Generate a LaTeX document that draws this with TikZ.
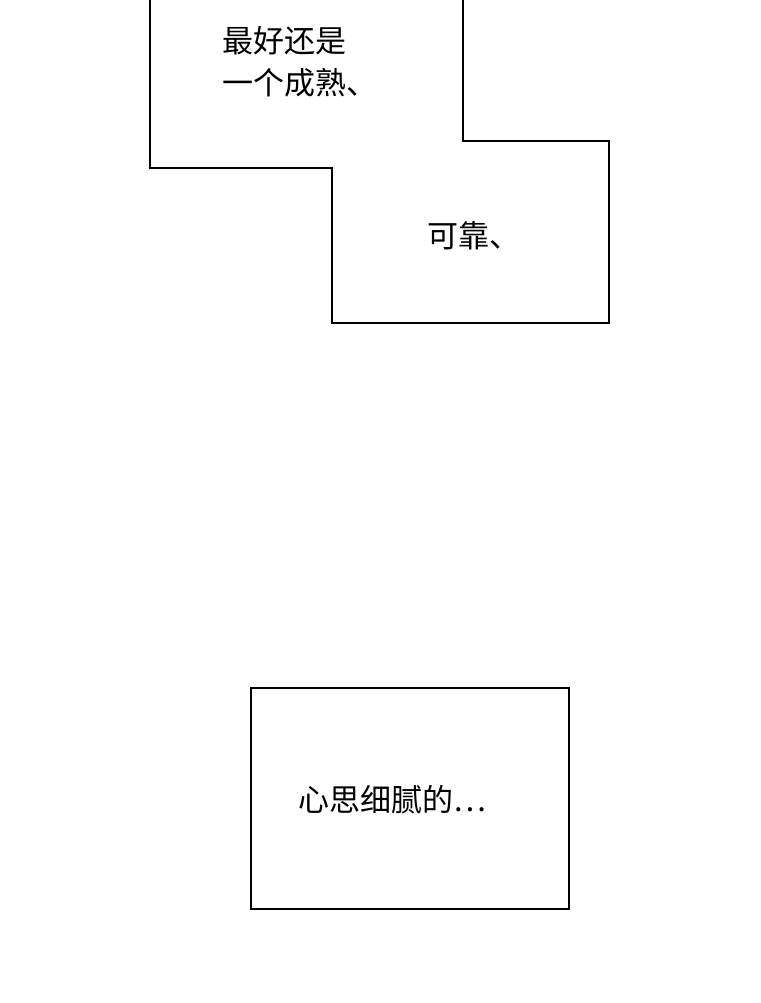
\documentclass[tikz,border=0pt]{standalone}
\usepackage{fontspec}
\newfontfamily\cjk{Noto Sans CJK SC}
\begin{document}
\begin{tikzpicture}[x=1pt,y=-1pt,line width=1.5pt,
  txt/.style={font=\cjk\fontsize{31}{42}\selectfont,inner sep=0pt,anchor=west,align=left}]
\useasboundingbox (0,0) rectangle (760,1003);
\fill[white] (0,0) rectangle (760,1003);
\draw (150,-2) -- (150,168) -- (332,168) -- (332,323) -- (609,323) -- (609,141) -- (463,141) -- (463,-2);
\draw (251,688) rectangle (569,909);
\node[txt,anchor=north west] (t1) at (222,26) {最好还是\\一个成熟、};
\node[txt] (t2) at (427,236) {可靠、};
\node[txt] (t3) at (298,800) {心思细腻的…};
\end{tikzpicture}
\end{document}
